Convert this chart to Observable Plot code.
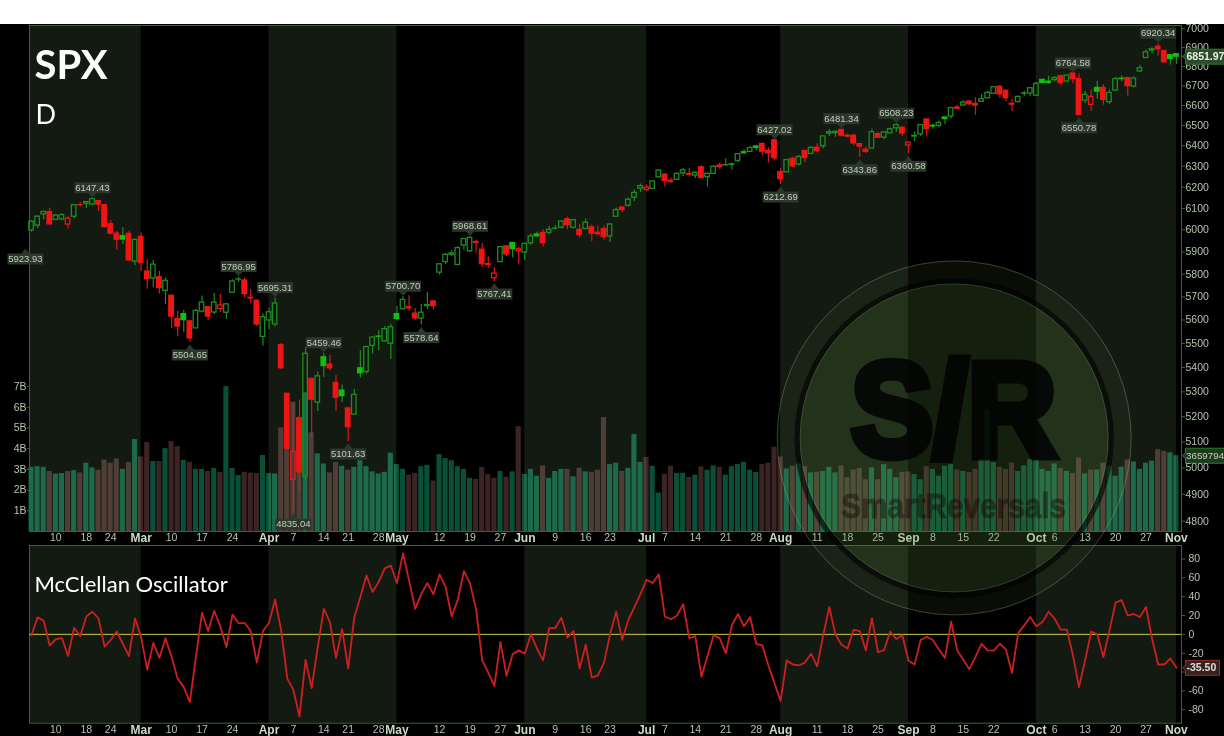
<!DOCTYPE html>
<html><head><meta charset="utf-8">
<script src="https://cdn.jsdelivr.net/npm/d3@7"></script>
<script src="https://cdn.jsdelivr.net/npm/@observablehq/plot@0.6"></script>
<style>
html,body{margin:0;padding:0;background:#fff;overflow:hidden}
#chart{position:relative;width:1224px;height:712px;margin-top:24px;background:#000;overflow:hidden}
#chart svg{position:absolute;left:0;top:0;background:transparent}
</style></head><body><div id="chart"></div>
<script>
const priorClose = 5994.57;
const open = [
5998,6020,6072,6083,6046,6049,6025,6061,6115,6122,
6118,6134,6115,6027,5983,5971,5982,5857,5968,5812,
5781,5786,5726,5705,5604,5625,5594,5564,5636,5655,
5632,5647,5631,5718,5776,5772,5696,5683,5528,5598,
5581,5493,5292,4954,5194,4965,5353,5256,5442,5412,
5336,5305,5233,5208,5396,5381,5490,5529,5509,5499,
5625,5646,5655,5627,5606,5660,5680,5807,5854,5886,
5841,5929,5903,5945,5910,5845,5782,5854,5925,5940,
5904,5897,5939,5979,5986,5987,6005,6010,6049,6010,
6000,6004,6012,5987,6004,5970,6061,6104,6112,6150,
6193,6187,6192,6247,6260,6230,6235,6266,6263,6255,
6295,6248,6263,6304,6304,6306,6326,6368,6370,6396,
6409,6374,6427,6272,6271,6336,6309,6374,6360,6390,
6397,6460,6462,6478,6445,6449,6408,6380,6386,6457,
6440,6461,6486,6489,6401,6445,6456,6530,6498,6499,
6540,6545,6590,6600,6620,6608,6619,6637,6660,6696,
6676,6609,6618,6660,6661,6650,6731,6722,6730,6750,
6723,6764,6735,6625,6604,6690,6690,6617,6676,6737,
6740,6697,6775,6845,6884,6904,6882,6860,6865];
const high = [
6042,6063,6084,6101,6073,6076,6063,6117,6127,6130,
6147.43,6134,6115,6044,5993,6010,5994,5959,5986,5865,
5861,5812,5783,5705,5636,5642,5598,5645,5704,5655,
5715,5711,5671,5775,5786.95,5784,5732,5685,5627,5651,
5695.31,5500,5292,5246,5267,5481,5353,5381,5459.46,5450,
5367,5328,5233,5310,5470,5489,5528,5554,5572,5582,
5659,5700.7,5705,5649,5668,5720,5684,5844,5893,5906,
5924,5959,5968.61,5953,5938,5878,5830,5924,5929,5943,
5922,5937,5981,5990,6000,6017,6021,6043,6059,6045,
6026,6051,6023,6018,6018,6028,6102,6109,6147,6187,
6215,6211,6228,6285,6262,6243,6269,6290,6290,6273,
6303,6268,6302,6316,6336,6316,6360,6381,6396,6401,
6409,6390,6427.02,6288,6330,6344,6352,6378,6395,6410,
6446,6480,6473,6481.34,6457,6456,6408,6394,6481,6466,
6468,6487,6508.23,6493,6416,6467,6503,6532,6508,6522,
6541,6592,6600,6626,6626,6639,6656,6672,6697,6699.5,
6676,6632,6650,6673,6689,6718,6733,6750,6749,6755,
6755,6764.58,6762,6673,6680,6724,6705,6680,6745,6752,
6745,6746,6807,6888,6900,6920.34,6882,6862,6865];
const low = [
5990,6007,6047,6020,6045,6042,6003,6051,6108,6100,
6111,6085,6009,5978,5908,5933,5859,5838,5811,5733,
5742,5712,5666,5564,5528,5546,5504.65,5564,5631,5598,
5622,5632,5603,5718,5764,5694,5671,5572,5489,5559,
5571,5391,5070,4835.04,4910,4948,5115,5221,5358,5386,
5221,5256,5101.63,5208,5356,5372,5456,5469,5506,5433,
5597,5644,5638,5598,5578.64,5645,5645,5796,5843,5880,
5841,5907,5896,5895,5830,5825,5767.41,5854,5878,5873,
5844,5861,5929,5966,5921,5979,6002,6005,6002,6004,
5963,6004,5947,5972,5953,5943,6059,6080,6107,6132,
6175,6178,6188,6247,6201,6218,6231,6251,6249,6241,
6241,6201,6263,6286,6303,6281,6317,6360,6368,6375,
6350,6317,6327,6212.69,6271,6294,6301,6317,6360,6365,
6385,6445,6441,6443,6439,6400,6343.86,6362,6386,6438,
6429,6461,6467,6445,6360.58,6420,6446,6443,6481,6488,
6504,6533,6579,6600,6600,6551,6619,6637,6657,6639,
6619,6570,6612,6645,6645,6648,6710,6708,6720,6700,
6717,6711,6550.78,6611,6570,6632,6602,6606,6676,6720,
6648,6689,6770,6845,6867,6855,6822,6808,6812];
const close = [
6037.88,6061.48,6083.57,6025.99,6066.44,6068.50,6051.97,6115.07,6114.63,6129.58,
6144.15,6117.52,6013.13,5983.25,5955.25,5956.06,5861.57,5954.50,5849.72,5778.15,
5842.63,5738.52,5770.20,5614.56,5572.07,5599.30,5521.52,5638.94,5675.12,5614.66,
5675.29,5662.89,5667.56,5767.57,5776.65,5712.20,5693.31,5580.94,5611.85,5633.07,
5670.97,5396.52,5074.08,5062.25,4982.77,5456.90,5268.05,5363.36,5405.97,5396.63,
5275.70,5282.70,5158.20,5287.76,5375.86,5484.77,5525.21,5528.75,5560.83,5569.06,
5604.14,5686.67,5650.38,5606.91,5631.28,5663.94,5659.91,5844.19,5886.55,5892.58,
5916.93,5958.38,5963.60,5940.46,5844.61,5842.01,5802.82,5921.54,5888.55,5912.17,
5911.69,5935.94,5970.37,5970.81,5939.30,6000.36,6005.88,6038.81,6022.24,6045.26,
5976.97,6033.11,5982.72,5980.87,5967.84,6025.17,6092.18,6092.16,6141.02,6173.07,
6204.95,6198.01,6227.42,6279.35,6229.98,6225.52,6263.26,6280.46,6259.75,6268.56,
6243.76,6263.70,6297.36,6296.79,6305.60,6309.62,6358.91,6363.35,6388.64,6389.77,
6370.86,6362.90,6339.39,6238.01,6329.94,6299.19,6345.06,6340.00,6389.45,6373.45,
6445.76,6466.58,6468.54,6449.80,6449.15,6411.37,6395.78,6370.17,6466.91,6439.32,
6465.94,6481.40,6501.86,6460.26,6415.54,6448.26,6502.08,6481.50,6495.15,6512.61,
6532.04,6587.47,6584.29,6615.28,6606.76,6600.35,6631.96,6664.36,6693.75,6656.92,
6637.97,6604.72,6643.70,6661.21,6688.46,6711.20,6715.35,6715.79,6740.28,6714.59,
6753.72,6735.11,6552.51,6654.72,6644.31,6671.06,6629.07,6664.01,6735.13,6735.35,
6699.40,6738.44,6791.69,6875.16,6890.89,6890.59,6822.34,6840.20,6851.97];
const volume = [
3.1,3.13,3.1,2.9,2.77,2.8,2.9,2.94,2.83,3.3,
3.07,2.96,3.45,3.3,3.5,3.0,3.33,4.44,3.6,4.3,
3.38,3.38,4.0,4.34,4.1,3.44,3.34,3.0,3.0,2.9,
3.05,2.86,7.0,3.05,2.7,2.86,2.82,2.8,3.67,2.8,
2.78,5.0,5.8,6.25,5.4,6.7,4.76,3.75,3.26,2.83,
3.33,3.15,2.96,3.1,3.42,3.13,2.88,2.78,2.86,3.78,
3.23,3.0,2.72,2.81,3.13,3.2,2.44,3.71,3.52,3.42,
3.13,3.0,2.57,2.52,3.1,2.75,2.57,2.9,2.62,2.88,
5.06,2.76,3.0,2.67,3.17,2.57,2.9,3.0,3.0,2.64,
3.05,2.88,2.86,2.96,5.5,3.23,3.3,2.9,3.05,4.68,
3.34,3.58,3.15,1.86,2.76,3.15,2.81,2.81,2.62,2.72,
3.12,2.96,3.17,3.1,2.72,3.13,3.23,3.34,2.96,2.85,
3.23,3.3,4.07,3.6,3.02,3.15,3.26,3.13,2.83,2.86,
2.9,3.1,2.83,3.17,2.6,2.97,3.05,2.5,3.07,2.5,
3.23,3.0,2.6,2.86,2.88,2.75,2.5,3.13,3.0,2.67,
3.15,3.23,2.97,2.9,2.85,3.0,3.5,5.9,3.33,3.1,
3.0,3.3,2.9,3.17,3.47,3.47,3.0,2.9,3.26,3.05,
2.9,2.8,3.55,2.78,2.97,2.97,3.3,3.15,2.67,3.1,
3.45,3.36,3.0,3.3,3.4,3.95,3.87,3.8,3.66];
const mcclellan = [
-1,18,14.5,-12,-5,-4,-23,7,-2,19,
24,17,-13,-6,3,-10,-23,17,-3,-37.5,
-9,-25,-4,-24,-47,-56,-72,-24,23,3.5,
25,8.5,-13.5,21,12,12,3.5,-30,3.5,12,
37,4,-47,-59,-87,-27,-57,-13.5,27,13,
-25,5.5,-36,18,40,62.5,45,55.5,70,73,
54.5,86,57,27,43,54.5,42.5,63.7,50,19,
37,67,54,27,-27.6,-40.7,-55,-8,-44,-21,
-17,-20.5,0,-15,-27.6,6.7,6.7,17.7,-3.5,3.5,
-36.4,-11,-46,-43.5,-30,0,24,-5.7,15.5,29,
43,58,54.5,63.7,19,16,20,32,-4,-2,
-45,-23,-1,-4,-20,9.5,21.6,8.5,18.4,-10,
-11.7,-33,-52,-70.7,-27.6,-32,-33,-30,-20.5,-34,
-1,29,0,-11,-15,5,3.5,-17,17.3,-19,
-16.6,3,-5,-1,-28,-32,-6,-2.5,-6,-16,
-25,13.4,-17,-27,-37,-24,-10,-17,-17.3,-10,
-16,-41,1,9.5,18.4,8.5,13,24,16.6,5,
5,-22,-56,-27.6,3,0,-24,4,33.6,36.4,
20,21.6,18.4,29,-4.6,-32,-32,-25.5,-35.5];

const dayTickIndex = [4,9,13,23,28,33,43,48,52,57,67,72,77,86,91,95,104,109,114,119,129,134,139,148,153,158,168,173,178,183];
const dayTickText  = ["10","18","24","10","17","24","7","14","21","28","12","19","27","9","16","23","7","14","21","28","11","18","25","8","15","22","6","13","20","27"];
const monthTickIndex = [18,39,60,81,101,123,144,165,188];
const monthTickText  = ["Mar","Apr","May","Jun","Jul","Aug","Sep","Oct","Nov"];
const bandStart = [-0.33,39,81,123,165];
const bandEnd   = [18,60,101,144,188];
const priceTicks = d3.range(4800,7001,100);
const volumeTicks = [1,2,3,4,5,6,7];
const oscTicks = [-80,-60,-40,-20,0,20,40,60,80];
const labelHigh = [[10,6147.43],[34,5786.95],[40,5695.31],[48,5459.46],[61,5700.70],[72,5968.61],[122,6427.02],[133,6481.34],[142,6508.23],[171,6764.58],[185,6920.34]];
const labelLow  = [[-1,5923.93],[26,5504.65],[43,4835.04],[52,5101.63],[64,5578.64],[76,5767.41],[123,6212.69],[136,6343.86],[144,6360.58],[172,6550.78]];
const lastPrice = 6851.97, lastVolumeText = "3659794", lastVolume = 3.66, lastOsc = -35.50;

const rows = close.map((c,i)=>({i,o:open[i],h:high[i],l:low[i],c,v:volume[i],m:mcclellan[i],
  up:c>=(i?close[i-1]:priorClose), solid:c<open[i]}));
const bands = bandStart.map((a,k)=>({a,b:bandEnd[k]}));
const W=1224,H=712, xDomain=[-0.33,188.83], xEdge=188.83;
const ML=29,MR=43;
const FONT="Liberation Sans, Arial, sans-serif";
const AX="#b4c3ad", GRID="#2f6a2f", BAND="#131a12";
const dayMap=new Map(dayTickIndex.map((d,k)=>[d,dayTickText[k]]));
const monMap=new Map(monthTickIndex.map((d,k)=>[d,monthTickText[k]]));
const base={width:W,height:H,marginLeft:ML,marginRight:MR,style:{background:"transparent",fontFamily:FONT,color:AX,overflow:"visible"}};
const xAxes=()=>[
  Plot.axisX({ticks:dayTickIndex,tickFormat:d=>dayMap.get(d),tickSize:0,tickPadding:2,fontSize:10.5,fill:AX,label:null}),
  Plot.axisX({ticks:monthTickIndex,tickFormat:d=>monMap.get(d),tickSize:0,tickPadding:2,fontSize:12,fontWeight:"bold",fill:"#c8dcc0",label:null})
];
const bandMark=()=>Plot.rect(bands,{x1:"a",x2:"b",fill:BAND});
// callout shapes, as symbols of the dot mark
const boxAbove={draw(p){p.moveTo(0,-1);p.lineTo(-4,-5);p.lineTo(-18,-5);p.lineTo(-18,-16);p.lineTo(18,-16);p.lineTo(18,-5);p.lineTo(4,-5);p.closePath();}};
const boxBelow={draw(p){p.moveTo(0,2);p.lineTo(-4,7);p.lineTo(-18,7);p.lineTo(-18,18);p.lineTo(18,18);p.lineTo(18,7);p.lineTo(4,7);p.closePath();}};
const tagOf=w=>({draw(p){p.moveTo(1,0);p.lineTo(4,-3);p.lineTo(4,-7.5);p.lineTo(w,-7.5);p.lineTo(w,7.5);p.lineTo(4,7.5);p.lineTo(4,3);p.closePath();}});
const callouts=(data,sym,dy)=>[
  Plot.dot(data,{x:d=>d[0],y:d=>d[1],symbol:sym,fill:"#2a372a",stroke:"none"}),
  Plot.text(data,{x:d=>d[0],y:d=>d[1],text:d=>d[1].toFixed(2),dy,fill:"#c3cdbc",fontSize:9.5,fontFamily:FONT})
];
const tag=(value,text,width,fill,stroke,tc)=>[
  Plot.dot([value],{x:()=>xEdge,y:d=>d,symbol:tagOf(width),fill,stroke,strokeWidth:1}),
  Plot.text([value],{x:()=>xEdge,y:d=>d,text:()=>text,dx:5,textAnchor:"start",fill:tc,fontSize:10.5,fontWeight:"bold",fontFamily:FONT})
];
const squeeze=(sx)=>(index,scales,values,dims,ctx,next)=>{
  const g=next(index,scales,values,dims,ctx);
  g.style.transformBox="fill-box";g.style.transformOrigin="center";g.style.transform=`scale(${sx},1)`;
  return g;
};

const volPlot=Plot.plot({...base,marginTop:1,marginBottom:205,
  x:{type:"linear",domain:xDomain,axis:null},
  y:{domain:[0,24.44],axis:null},
  marks:[
    bandMark(),
    Plot.rect(rows,{x1:d=>d.i-0.42,x2:d=>d.i+0.42,y1:0,y2:"v",fill:d=>d.up?"#0a5039":"#3c2424",mixBlendMode:"plus-lighter"}),
    Plot.frame({stroke:GRID}),
    Plot.axisY({anchor:"left",ticks:volumeTicks,tickFormat:d=>d+"B",tickSize:2,tickPadding:1,fontSize:10.5,fill:AX,stroke:GRID,label:null}),
    ...xAxes(),
    Plot.dot([lastVolume],{x:()=>xEdge,y:d=>d,symbol:tagOf(46),fill:"#1d3a1d",stroke:"#2f7a2f",strokeWidth:1}),
    Plot.text([lastVolume],{x:()=>xEdge,y:d=>d,text:()=>lastVolumeText,dx:4.5,textAnchor:"start",fill:"#c3cdbc",fontSize:9.8,fontFamily:FONT})
  ]});

const oscPlot=Plot.plot({...base,marginTop:521,marginBottom:13.3,
  x:{type:"linear",domain:xDomain,axis:null},
  y:{domain:[-94.3,94.3],axis:null},
  marks:[
    bandMark(),
    Plot.frame({stroke:GRID}),
    Plot.ruleY([0],{stroke:"#c9c94e",strokeWidth:1}),
    Plot.line(rows,{x:"i",y:"m",stroke:"#cc2020",strokeWidth:1.8}),
    Plot.axisY({anchor:"right",ticks:oscTicks,tickFormat:d=>String(d),tickSize:3,tickPadding:4,fontSize:10.5,fill:AX,stroke:GRID,label:null}),
    ...xAxes(),
    Plot.text(["McClellan Oscillator"],{frameAnchor:"top-left",dx:5,dy:31,lineAnchor:"top",fill:"#fff",fontSize:22,fontFamily:"Lato, sans-serif"}),
    ...tag(lastOsc,lastOsc.toFixed(2),38,"#3a2020","#a02a2a","#d8e0d0")
  ]});

const wmX=151.5, wmP=5116, wmSR=5212, wmTextP=4850;
const candleColor=d=>d.up?(d.solid?"#10c010":"#1f8c1f"):"#f01414";
const pricePlot=Plot.plot({...base,marginTop:1,marginBottom:205,
  x:{type:"linear",domain:xDomain,axis:null},
  y:{type:"log",domain:[4762,7017.7],axis:null},
  marks:[
    Plot.ruleX(rows,{x:"i",y1:"l",y2:d=>Math.min(d.o,d.c),stroke:d=>d.up?"#1f8c1f":"#d81818",strokeWidth:1.2}),
    Plot.ruleX(rows,{x:"i",y1:d=>Math.max(d.o,d.c),y2:"h",stroke:d=>d.up?"#1f8c1f":"#d81818",strokeWidth:1.2}),
    Plot.rect(rows,{x1:d=>d.i-0.37,x2:d=>d.i+0.37,y1:"o",y2:"c",stroke:candleColor,strokeWidth:1.3,
      fill:d=>d.solid?candleColor(d):"none"}),
    ...callouts(labelHigh,boxAbove,-10.5),
    ...callouts(labelLow,boxBelow,12.5),
    Plot.axisY({anchor:"right",ticks:priceTicks,tickFormat:d=>String(d),tickSize:3,tickPadding:1,fontSize:10.5,fill:AX,stroke:GRID,label:null}),
    ...tag(lastPrice,lastPrice.toFixed(2),46,"#2c4a2c","#2f7a2f","#e8f0e0"),
    Plot.text(["SPX"],{frameAnchor:"top-left",dx:5,dy:25,lineAnchor:"top",fill:"#fff",fontSize:40,fontWeight:"bold",fontFamily:"Lato, sans-serif"}),
    Plot.text(["D"],{frameAnchor:"top-left",dx:6,dy:79,lineAnchor:"top",fill:"#fff",fontSize:27,fontFamily:"Lato, sans-serif"}),
    // watermark
    Plot.dot([0],{x:()=>wmX,y:()=>wmP,r:177,fill:"#5f8c42",fillOpacity:0.09,stroke:"#b8c8b0",strokeOpacity:0.3,strokeWidth:1}),
    Plot.dot([0],{x:()=>wmX,y:()=>wmP,r:157,fill:"none",stroke:"#000",strokeOpacity:0.6,strokeWidth:5.5}),
    Plot.dot([0],{x:()=>wmX,y:()=>wmP,r:154,fill:"#5f8c42",fillOpacity:0.14,stroke:"#b8c8b0",strokeOpacity:0.22,strokeWidth:1}),
    Plot.text(["S/R"],{x:()=>wmX,y:()=>wmSR,fill:"#000",stroke:"#000",strokeWidth:9,strokeLinejoin:"miter",opacity:0.8,fontSize:134,fontWeight:"bold",fontFamily:FONT,render:squeeze(0.92)}),
    Plot.text(["SmartReversals"],{x:()=>wmX,y:()=>wmTextP,fill:"#100",stroke:"#100",strokeWidth:1,opacity:0.4,fontSize:35,fontWeight:"bold",fontFamily:FONT,render:squeeze(0.85)})
  ]});

const c=document.getElementById("chart");
c.append(volPlot,oscPlot,pricePlot);
</script></body></html>
